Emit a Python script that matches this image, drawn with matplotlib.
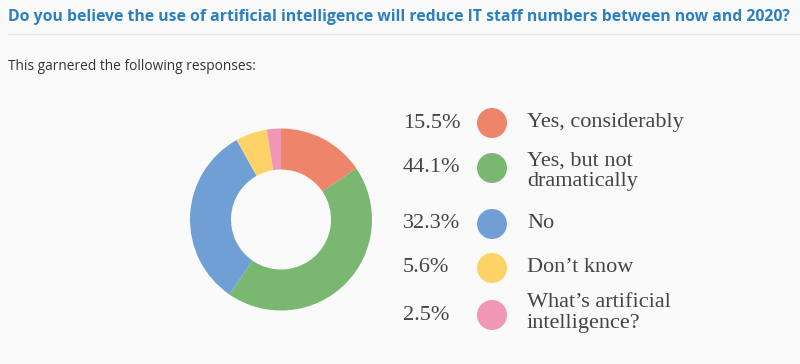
import matplotlib
matplotlib.use("Agg")
import matplotlib.pyplot as plt
from matplotlib.patches import Circle

title = "Do you believe the use of artificial intelligence will reduce IT staff numbers between now and 2020?"
subtitle = "This garnered the following responses:"
categories = ["Yes, considerably", "Yes, but not\ndramatically", "No", "Don\u2019t know",
              "What\u2019s artificial\nintelligence?"]
values = [15.5, 44.1, 32.3, 5.6, 2.5]
pct_labels = ["15.5%", "44.1%", "32.3%", "5.6%", "2.5%"]
colors = ["#ee846a", "#7ab872", "#6f9fd4", "#fdd367", "#f097b5"]

W, H = 800, 364
bg = "#fafafa"
fig = plt.figure(figsize=(W / 100, H / 100), dpi=100, facecolor=bg)
ax = fig.add_axes([0, 0, 1, 1])
ax.set_xlim(0, W)
ax.set_ylim(0, H)
ax.set_aspect("equal")
ax.axis("off")
ax.set_facecolor(bg)

def Y(py):
    return H - py

# title & subtitle
ax.text(8, Y(17), title, fontsize=11.35, fontweight="bold", color="#2b7fc3",
        family=["Open Sans", "DejaVu Sans"], va="center", ha="left")
ax.plot([8, 800], [Y(34), Y(34)], color="#e6e6e6", lw=1)
ax.text(8, Y(66), subtitle, fontsize=9.9, color="#333333",
        family=["Open Sans", "DejaVu Sans"], va="center", ha="left")

# donut
ax.pie(values, colors=colors, startangle=90, counterclock=False,
       center=(281, Y(219.5)), radius=91,
       wedgeprops=dict(width=91 - 50, edgecolor="none", linewidth=0))
ax.set_xlim(0, W)
ax.set_ylim(0, H)

# legend
row_y = [123, 168, 224, 268, 315]
text_y = [123, 171, 224, 268, 313]
for lab, pct, col, ry, ty in zip(categories, pct_labels, colors, row_y, text_y):
    ax.text(403, Y(ry), pct, fontsize=16, color="#444444",
            family="Liberation Serif", va="center", ha="left")
    ax.add_patch(Circle((492, Y(ry)), 15, color=col, ec="none"))
    ax.text(527, Y(ty), lab, fontsize=16, color="#444444",
            family="Liberation Serif", va="center", ha="left", linespacing=1.08)

fig.savefig("out.png", dpi=100, facecolor=bg)
